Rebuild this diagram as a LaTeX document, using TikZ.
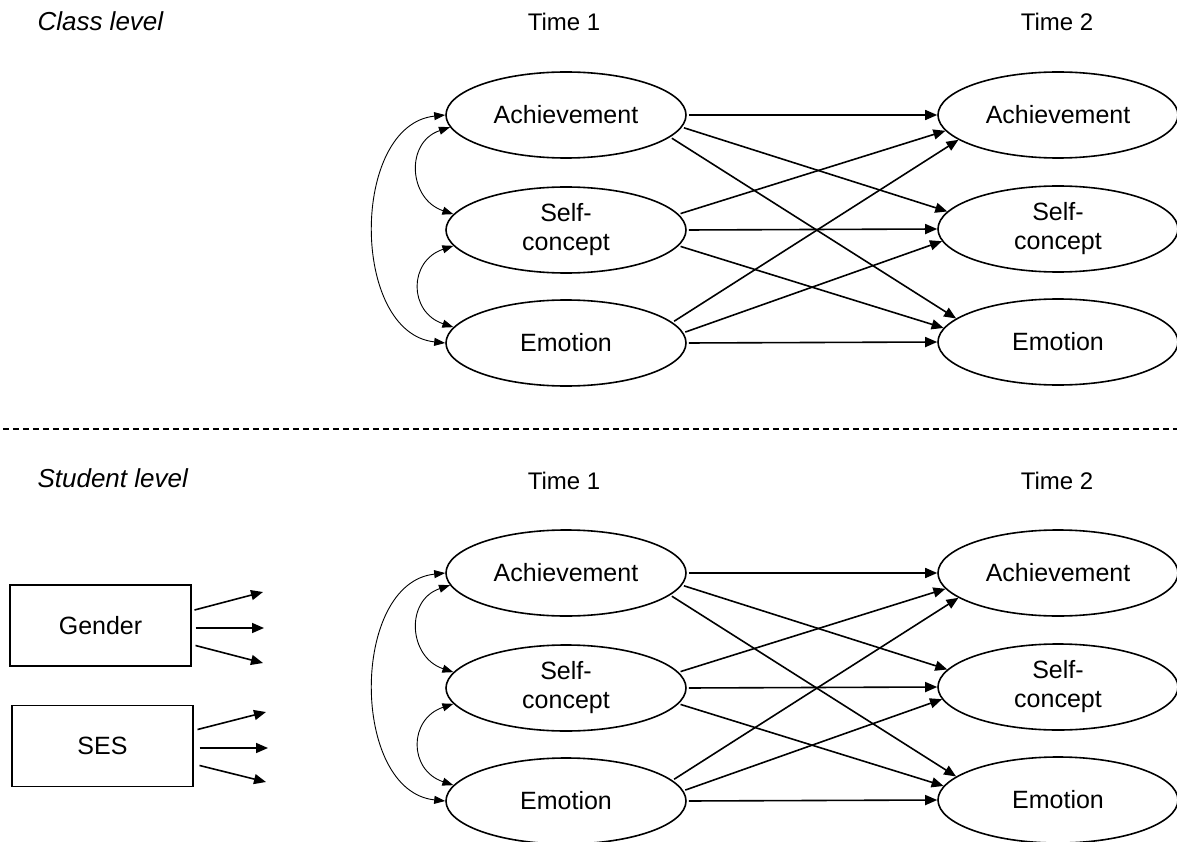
\documentclass[tikz,border=0pt]{standalone}
\usepackage{fontspec}
\setmainfont{Liberation Sans}
\usetikzlibrary{arrows.meta,calc,shapes.geometric}
\tikzset{
  ell/.style={ellipse,draw,line width=1.6pt,minimum width=240pt,minimum height=86pt,inner sep=0pt,align=center,font=\fontsize{25}{29}\selectfont},
  arr/.style={line width=1.6pt,shorten <=2pt,-{Triangle[length=12pt,width=10pt]}},
  cov/.style={line width=0.9pt,{Triangle[length=11pt,width=8pt]}-{Triangle[length=11pt,width=8pt]}},
  lbl/.style={font=\fontsize{24}{28}\selectfont,anchor=base},
  lvl/.style={font=\fontsize{26}{30}\selectfont\itshape,anchor=base west},
  boxn/.style={draw,line width=1.2pt,minimum width=181pt,minimum height=81pt,inner sep=0pt,font=\fontsize{25}{29}\selectfont}
}
\newcommand\mypanel[2]{%
  \begin{scope}[shift={(0,#2)}]
    \node[lbl] (#1t1) at (564,31) {Time 1};
    \node[lbl] (#1t2) at (1057,31) {Time 2};
    \node[ell] (#1a1) at (566,115) {Achievement};
    \node[ell] (#1s1) at (566,230) {Self-\\concept};
    \node[ell] (#1e1) at (566,343) {Emotion};
    \node[ell] (#1a2) at (1058,115) {Achievement};
    \node[ell] (#1s2) at (1058,229) {Self-\\concept};
    \node[ell] (#1e2) at (1058,342) {Emotion};
    \draw[arr] (#1a1.east) -- (#1a2.west);
    \draw[arr] (#1a1.-6) -- (#1s2.171);
    \draw[arr] (#1a1.-12) -- (#1e2.167);
    \draw[arr] (#1s1.8) -- (#1a2.-172);
    \draw[arr] (#1s1.east) -- (#1s2.west);
    \draw[arr] (#1s1.-8) -- (#1e2.173);
    \draw[arr] (#1e1.11) -- (#1a2.-166);
    \draw[arr] (#1e1.5) -- (#1s2.-174);
    \draw[arr] (#1e1.east) -- (#1e2.west);
    \draw[cov] (#1a1.186) .. controls +(-45,15) and +(-45,-15) .. (#1s1.172);
    \draw[cov] (#1s1.188) .. controls +(-45,15) and +(-45,-15) .. (#1e1.172);
    \draw[cov] (#1a1.180) .. controls +(-95,10) and +(-95,-10) .. (#1e1.180);
  \end{scope}}
\begin{document}
\begin{tikzpicture}[x=1pt,y=-1pt]
  \useasboundingbox (0,0) rectangle (1177,842);
  \node[lvl] (cl) at (34,31) {Class level};
  \node[lvl] (sl) at (34,487) {Student level};
  \mypanel{top}{0}
  \mypanel{bot}{458}
  \coordinate (dl) at (3,429);
  \coordinate (dr) at (1177,429);
  \draw[line width=1.2pt,dash pattern=on 6pt off 4pt] (dl) -- (dr);
  \node[boxn] (g) at (100.5,625.5) {Gender};
  \node[boxn] (ses) at (102.5,746) {SES};
  \coordinate (g1) at (263,592);
  \coordinate (g2) at (264,628);
  \coordinate (g3) at (263,663);
  \coordinate (h1) at (266,712);
  \coordinate (h2) at (268,748);
  \coordinate (h3) at (266,782);
  \draw[arr] ($(g.east)+(1,-15)$) -- (g1);
  \draw[arr] ($(g.east)+(2,2.5)$) -- (g2);
  \draw[arr] ($(g.east)+(2,19.5)$) -- (g3);
  \draw[arr] ($(ses.east)+(2,-16)$) -- (h1);
  \draw[arr] ($(ses.east)+(4,2)$) -- (h2);
  \draw[arr] ($(ses.east)+(4,19)$) -- (h3);
\end{tikzpicture}
\end{document}
